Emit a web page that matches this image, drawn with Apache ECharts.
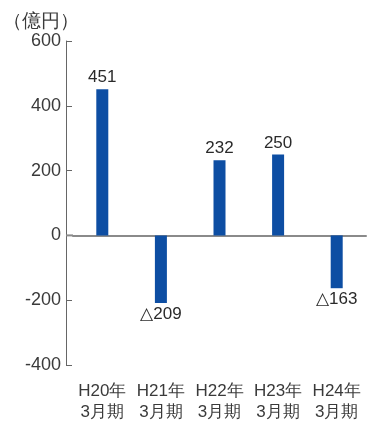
<!DOCTYPE html>
<html>
<head>
<meta charset="utf-8">
<script src="https://cdn.jsdelivr.net/npm/echarts@6/dist/echarts.min.js"></script>
<style>
  html, body { margin: 0; padding: 0; background: #fff; }
  #chart { width: 367px; height: 422px; }
</style>
</head>
<body>
<div id="chart"></div>
<script>
// Fiscal periods and profit values (units: 億円)
const categories = ['H20年\n3月期', 'H21年\n3月期', 'H22年\n3月期', 'H23年\n3月期', 'H24年\n3月期'];
const values = [451, -209, 232, 250, -163];
const yTicks = [600, 400, 200, 0, -200, -400];
const unitLabel = '（億円）';

const FONT = '"Liberation Sans", Arial, sans-serif';
const TEXT_COLOR = '#3a3a3a';

const chart = echarts.init(document.getElementById('chart'), null, { renderer: 'canvas' });

// negative values are written with a triangle mark
const fmtValue = v => (v < 0 ? '△' + Math.abs(v) : String(v));

chart.setOption({
  animation: false,
  backgroundColor: '#ffffff',
  grid: { left: 73, right: 1, top: 41, bottom: 57, outerBoundsMode: 'none', containLabel: false },
  title: {
    text: unitLabel,
    left: -2, top: 7,
    textStyle: { fontFamily: FONT, fontSize: 19, fontWeight: 'normal', color: TEXT_COLOR }
  },
  xAxis: {
    type: 'category',
    data: categories,
    axisLine: { show: true, onZero: true, lineStyle: { color: '#8a8a8a', width: 2 } },
    axisTick: { show: false },
    axisLabel: {
      fontFamily: FONT, fontSize: 17, color: TEXT_COLOR,
      lineHeight: 21, margin: 16, interval: 0
    }
  },
  yAxis: {
    type: 'value',
    min: yTicks[yTicks.length - 1],
    max: yTicks[0],
    interval: 200,
    offset: 7,
    axisLine: { show: true, lineStyle: { color: '#666', width: 1 } },
    axisTick: { show: true, inside: true, length: 6, lineStyle: { color: '#666' } },
    splitLine: { show: false },
    axisLabel: { fontFamily: FONT, fontSize: 18, color: TEXT_COLOR, margin: 5 }
  },
  series: [{
    type: 'bar',
    data: values,
    barWidth: 12,
    itemStyle: { color: '#0d4ea3' },
    label: {
      show: true,
      position: 'outside',
      formatter: p => fmtValue(p.value),
      fontFamily: FONT, fontSize: 17, color: '#2a2a2a', distance: 3
    }
  }]
});

// extend the zero baseline left to meet the offset value axis
const y0 = chart.convertToPixel({ yAxisIndex: 0 }, 0);
chart.setOption({
  graphic: [{
    type: 'line',
    shape: { x1: 66, y1: y0, x2: 73, y2: y0 },
    style: { stroke: '#8a8a8a', lineWidth: 2 },
    z: 10
  }]
});
</script>
</body>
</html>
